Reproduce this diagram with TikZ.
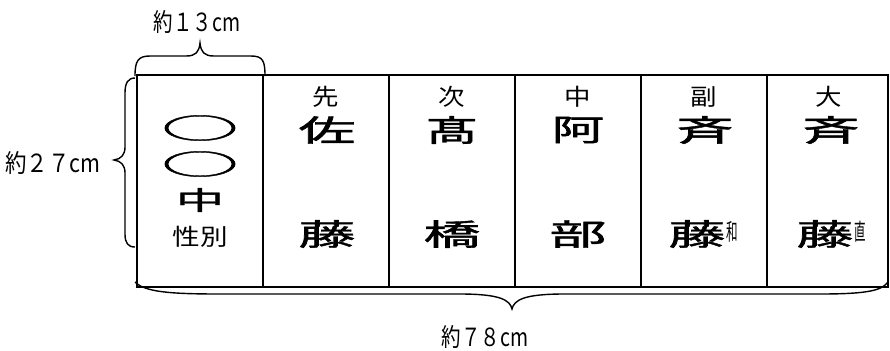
\documentclass[tikz,border=0pt]{standalone}
\usepackage{graphicx}
\usepackage{fontspec}
\setmainfont{Noto Sans CJK JP}
\newfontfamily\medfont[FakeBold=1.3]{Noto Sans CJK JP}
\newcommand{\xsc}[2]{\scalebox{#1}[1]{#2}}
\begin{document}
\begin{tikzpicture}[x=1bp,y=-1bp,
  boxline/.style={line width=2bp},
  braceline/.style={line width=1.4bp},
  big/.style={inner sep=0pt,font=\fontsize{30bp}{30bp}\medfont},
  small/.style={inner sep=0pt,font=\fontsize{23bp}{23bp}\selectfont},
  dim/.style={inner sep=0pt,font=\fontsize{25bp}{25bp}\selectfont}]
\useasboundingbox (0,0) rectangle (890,350);
% table
\draw[boxline] (137,75) rectangle (888,287);
\foreach \x in {263,389,515,641,767}{\draw[boxline] (\x,75) -- (\x,287);}
% first column
\node[inner sep=0pt,font=\fontsize{21bp}{21bp}\medfont] (o1) at (200,128) {\scalebox{3.7}[1.35]{○}};
\node[inner sep=0pt,font=\fontsize{21bp}{21bp}\medfont] (o2) at (200,164) {\scalebox{3.7}[1.35]{○}};
\node[big,font=\fontsize{26bp}{26bp}\medfont] (naka) at (200,200) {\xsc{1.85}{中}};
\node[small] (sei) at (200,237) {\xsc{1.2}{性別}};
% positions
\node[small] (p1) at (326,97) {\xsc{1.15}{先}};
\node[small] (p2) at (452,97) {\xsc{1.15}{次}};
\node[small] (p3) at (578,97) {\xsc{1.15}{中}};
\node[small] (p4) at (704,97) {\xsc{1.15}{副}};
\node[small] (p5) at (829,97) {\xsc{1.15}{大}};
% family names top
\node[big] (a1) at (327,130) {\xsc{1.9}{佐}};
\node[big] (a2) at (452,130) {\xsc{1.75}{髙}};
\node[big] (a3) at (578,130) {\xsc{1.75}{阿}};
\node[big] (a4) at (705,130) {\xsc{1.9}{斉}};
\node[big] (a5) at (831,130) {\xsc{1.9}{斉}};
% family names bottom
\node[big] (b1) at (327,234) {\xsc{1.9}{藤}};
\node[big] (b2) at (452,234) {\xsc{1.9}{橋}};
\node[big] (b3) at (578,234) {\xsc{1.9}{部}};
\node[big] (b4) at (697,234) {\xsc{1.9}{藤}};
\node[small] (c4) at (732,232) {\xsc{0.5}{和}};
\node[big] (b5) at (825,234) {\xsc{1.9}{藤}};
\node[small] (c5) at (860,232) {\xsc{0.5}{直}};
% dimension labels
\node[dim] (w13) at (197,22) {\xsc{0.78}{約１３cm}};
\node[dim] (h27) at (53,163) {\xsc{0.86}{約２７cm}};
\node[dim] (w78) at (485,337) {\xsc{0.78}{約７８cm}};
% braces
\coordinate (ttip) at (200,43);
\draw[braceline] (135,76) .. controls (135,61) and (138,56) .. (150,56) -- (186,56)
  .. controls (196,56) and (199,52) .. (ttip)
  .. controls (201,52) and (204,56) .. (214,56) -- (251,56)
  .. controls (263,56) and (265,61) .. (265,76);
\coordinate (ltip) at (114,160);
\draw[braceline] (135,78) .. controls (128,78) and (125,83) .. (125,93) -- (125,147)
  .. controls (125,155) and (121,159) .. (ltip)
  .. controls (121,161) and (125,165) .. (125,173) -- (125,234)
  .. controls (125,243) and (128,247) .. (135,247);
\coordinate (btip) at (512,309);
\draw[braceline] (135,282) .. controls (145,292) and (170,294) .. (220,294) -- (460,294)
  .. controls (500,294) and (510,300) .. (btip)
  .. controls (514,300) and (524,294) .. (564,294) -- (820,294)
  .. controls (870,294) and (882,290) .. (888,282);
\end{tikzpicture}
\end{document}
